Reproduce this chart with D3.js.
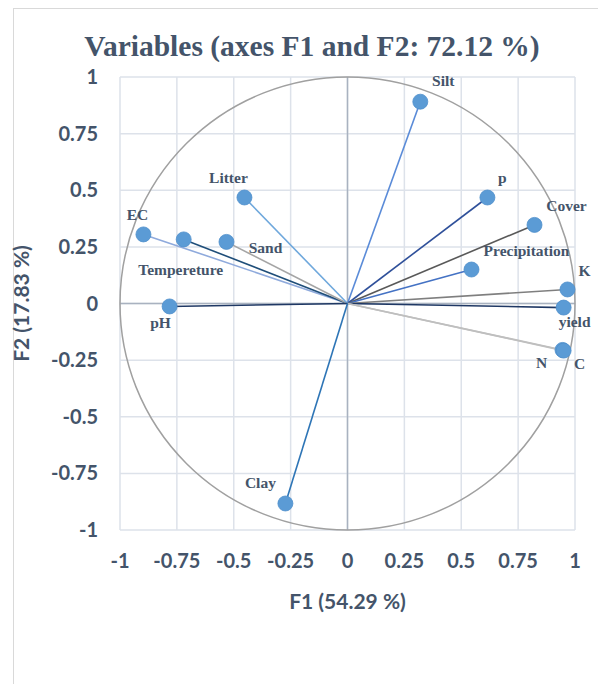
<!DOCTYPE html>
<html>
<head>
<meta charset="utf-8">
<script src="https://cdn.jsdelivr.net/npm/d3@7"></script>
<style>
  body { margin: 0; background: #fff; }
  svg text { fill: #44546A; }
</style>
</head>
<body>
<svg id="chart" width="598" height="684"></svg>
<script>
// variables and their loadings on F1 / F2
const variables = ["Silt", "p", "Cover", "Precipitation", "K", "yield", "N", "C",
                   "EC", "Tempereture", "Sand", "Litter", "pH", "Clay"];
const f1 = [0.32, 0.615, 0.822, 0.545, 0.967, 0.95, 0.945, 0.95,
            -0.897, -0.72, -0.532, -0.453, -0.782, -0.273];
const f2 = [0.891, 0.468, 0.347, 0.150, 0.062, -0.018, -0.205, -0.208,
            0.305, 0.283, 0.272, 0.468, -0.013, -0.883];
const ticks = [-1, -0.75, -0.5, -0.25, 0, 0.25, 0.5, 0.75, 1];

const lineColor = {
    Silt: "#5a8bd8", p: "#2f509a", Cover: "#595959", Precipitation: "#4472c4",
    K: "#7f7f7f", yield: "#1f3864", N: "#bfbfbf", C: "#bfbfbf",
    EC: "#8faadc", Tempereture: "#1f4e79", Sand: "#a5a5a5", Litter: "#6fa8dc",
    pH: "#1f3864", Clay: "#2e75b6"
};
// label offset from the point, px
const labelOffset = {
    Silt: [23, -21], p: [15, -20], Cover: [32, -19], Precipitation: [55, -19],
    K: [17, -19], yield: [11, 14], N: [-21, 13], C: [16, 13],
    EC: [-6, -20], Tempereture: [-3, 30], Sand: [39, 6], Litter: [-16, -20],
    pH: [-9, 16], Clay: [-25, -21]
};

const svg = d3.select("#chart");

svg.append("rect")
    .attr("x", 13.5).attr("y", 8.5)
    .attr("width", 700).attr("height", 800)
    .attr("fill", "none").attr("stroke", "#d9d9d9");

const x = d3.scaleLinear().domain([-1, 1]).range([120, 575]);
const y = d3.scaleLinear().domain([-1, 1]).range([530, 77]);

const g = svg.append("g");

// grid
g.selectAll("line.gx").data(ticks).join("line")
    .attr("class", "gx")
    .attr("x1", d => x(d)).attr("x2", d => x(d))
    .attr("y1", y(-1)).attr("y2", y(1))
    .attr("stroke", "#dde2ea").attr("stroke-width", 1.5);
g.selectAll("line.gy").data(ticks).join("line")
    .attr("class", "gy")
    .attr("y1", d => y(d)).attr("y2", d => y(d))
    .attr("x1", x(-1)).attr("x2", x(1))
    .attr("stroke", "#dde2ea").attr("stroke-width", 1.5);

// zero axes
g.append("line")
    .attr("x1", x(0)).attr("x2", x(0)).attr("y1", y(-1)).attr("y2", y(1))
    .attr("stroke", "#a9b2c0").attr("stroke-width", 1.5);
g.append("line")
    .attr("y1", y(0)).attr("y2", y(0)).attr("x1", x(-1)).attr("x2", x(1))
    .attr("stroke", "#a9b2c0").attr("stroke-width", 1.5);

// correlation circle
g.append("ellipse")
    .attr("cx", x(0)).attr("cy", y(0))
    .attr("rx", x(1) - x(0)).attr("ry", y(0) - y(1))
    .attr("fill", "none").attr("stroke", "#a0a0a0").attr("stroke-width", 1.5);

const data = variables.map((v, i) => ({ name: v, x: f1[i], y: f2[i] }));

g.selectAll("line.vec").data(data).join("line")
    .attr("class", "vec")
    .attr("x1", x(0)).attr("y1", y(0))
    .attr("x2", d => x(d.x)).attr("y2", d => y(d.y))
    .attr("stroke", d => lineColor[d.name]).attr("stroke-width", 1.6);

g.selectAll("circle.pt").data(data).join("circle")
    .attr("class", "pt")
    .attr("cx", d => x(d.x)).attr("cy", d => y(d.y))
    .attr("r", 7.5)
    .attr("fill", "#5b9bd5").attr("stroke", "#4f8fcc").attr("stroke-width", 0.8);

g.selectAll("text.lbl").data(data).join("text")
    .attr("class", "lbl")
    .attr("x", d => x(d.x) + labelOffset[d.name][0])
    .attr("y", d => y(d.y) + labelOffset[d.name][1])
    .attr("text-anchor", "middle")
    .attr("dy", "0.35em")
    .style("font-family", "'Liberation Serif', 'Times New Roman', serif")
    .style("font-weight", "bold")
    .style("font-size", "15.5px")
    .text(d => d.name);

// tick labels
const tickFont = "Lato, 'Open Sans', sans-serif";
svg.selectAll("text.xt").data(ticks).join("text")
    .attr("class", "xt")
    .attr("x", d => x(d)).attr("y", 561)
    .attr("dy", "0.35em")
    .attr("text-anchor", "middle")
    .style("font-family", tickFont).style("font-weight", "bold").style("font-size", "20px")
    .text(d => String(d));
svg.selectAll("text.yt").data(ticks).join("text")
    .attr("class", "yt")
    .attr("x", 98).attr("y", d => y(d))
    .attr("dy", "0.35em")
    .attr("text-anchor", "end")
    .style("font-family", tickFont).style("font-weight", "bold").style("font-size", "20px")
    .text(d => String(d));

svg.append("text")
    .attr("x", x(0)).attr("y", 602)
    .attr("dy", "0.35em")
    .attr("text-anchor", "middle")
    .style("font-family", tickFont).style("font-weight", "bold").style("font-size", "21px")
    .text("F1 (54.29 %)");
svg.append("text")
    .attr("transform", `translate(22,${y(0)}) rotate(-90)`)
    .attr("dy", "0.35em")
    .attr("text-anchor", "middle")
    .style("font-family", tickFont).style("font-weight", "bold").style("font-size", "21px")
    .text("F2 (17.83 %)");

svg.append("text")
    .attr("x", 312).attr("y", 46)
    .attr("dy", "0.35em")
    .attr("text-anchor", "middle")
    .style("font-family", "'Liberation Serif', 'Times New Roman', serif")
    .style("font-weight", "bold")
    .style("font-size", "29.5px")
    .text("Variables (axes F1 and F2: 72.12 %)");
</script>
</body>
</html>
